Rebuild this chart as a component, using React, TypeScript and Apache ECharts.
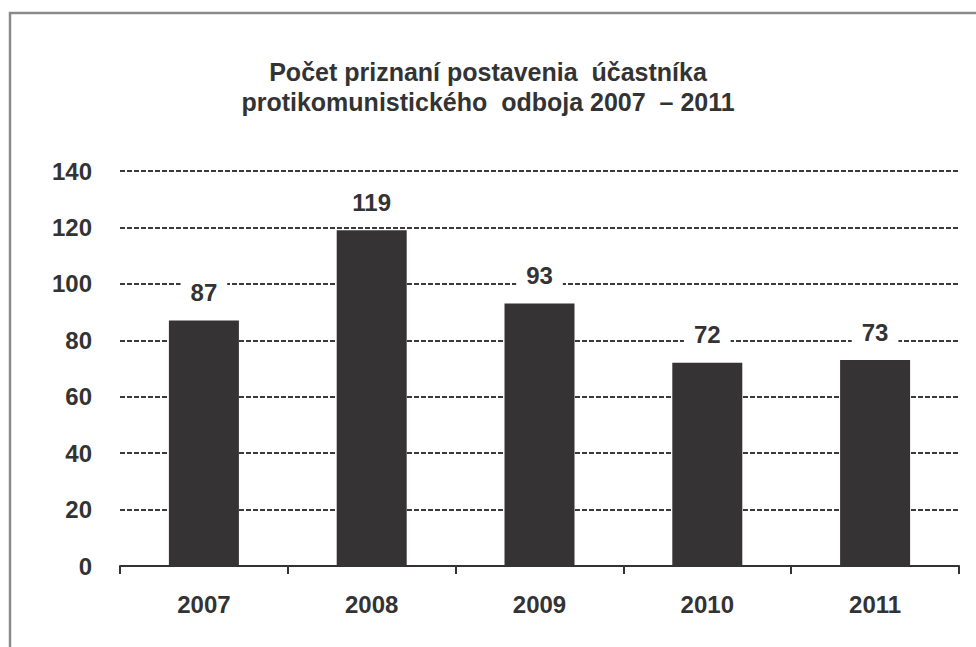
import React, { useEffect, useRef } from "react";
import * as echarts from "echarts";

const titleLines = ["Počet priznaní postavenia  účastníka", "protikomunistického  odboja 2007  – 2011"];
const categories = ["2007", "2008", "2009", "2010", "2011"];
const values = [87, 119, 93, 72, 73];
const yMin = 0;
const yMax = 140;
const yStep = 20;

const FONT = "'Liberation Sans', Arial, sans-serif";
const TEXT = "#333333";

export default function App() {
  const ref = useRef<HTMLDivElement>(null);
  useEffect(() => {
    if (!ref.current) return;
    const chart = echarts.init(ref.current, undefined, { renderer: "svg" });
    chart.setOption({
      animation: false,
      backgroundColor: "#ffffff",
      title: {
        text: titleLines.join("\n"),
        left: "center",
        top: 52,
        textStyle: {
          fontFamily: FONT,
          fontSize: 25,
          fontWeight: "bold",
          color: TEXT,
          lineHeight: 30,
        },
      },
      graphic: [
        {
          type: "rect",
          shape: { x: 10, y: 13, width: 1000, height: 700 },
          style: { fill: "none", stroke: "#8a8a8a", lineWidth: 2.5 },
          silent: true,
        },
      ],
      grid: { left: 120, right: 17, top: 171, bottom: 81 },
      xAxis: {
        type: "category",
        data: categories,
        axisLine: { show: true, lineStyle: { color: "#333333", width: 2 } },
        axisTick: { show: true, alignWithLabel: false, length: 8, lineStyle: { color: "#333333", width: 2 } },
        axisLabel: { fontFamily: FONT, fontSize: 24, fontWeight: "bold", color: TEXT, margin: 26 },
        splitLine: { show: false },
      },
      yAxis: {
        type: "value",
        min: yMin,
        max: yMax,
        interval: yStep,
        axisLine: { show: false },
        axisTick: { show: false },
        axisLabel: { fontFamily: FONT, fontSize: 24, fontWeight: "bold", color: TEXT, margin: 28 },
        splitLine: { show: true, lineStyle: { color: "#3a3a3a", type: [5, 2], width: 1.8 } },
      },
      series: [
        {
          type: "bar",
          data: values,
          barWidth: 70,
          itemStyle: { color: "#353334" },
          label: {
            show: true,
            position: "top",
            distance: 14,
            fontFamily: FONT,
            fontSize: 24,
            fontWeight: "bold",
            color: TEXT,
            backgroundColor: "#ffffff",
            padding: [2, 10],
          },
        },
      ],
    });
    return () => chart.dispose();
  }, []);
  return (
    <div
      ref={ref}
      style={{ position: "fixed", left: 0, top: 0, width: 976, height: 647 }}
    />
  );
}
